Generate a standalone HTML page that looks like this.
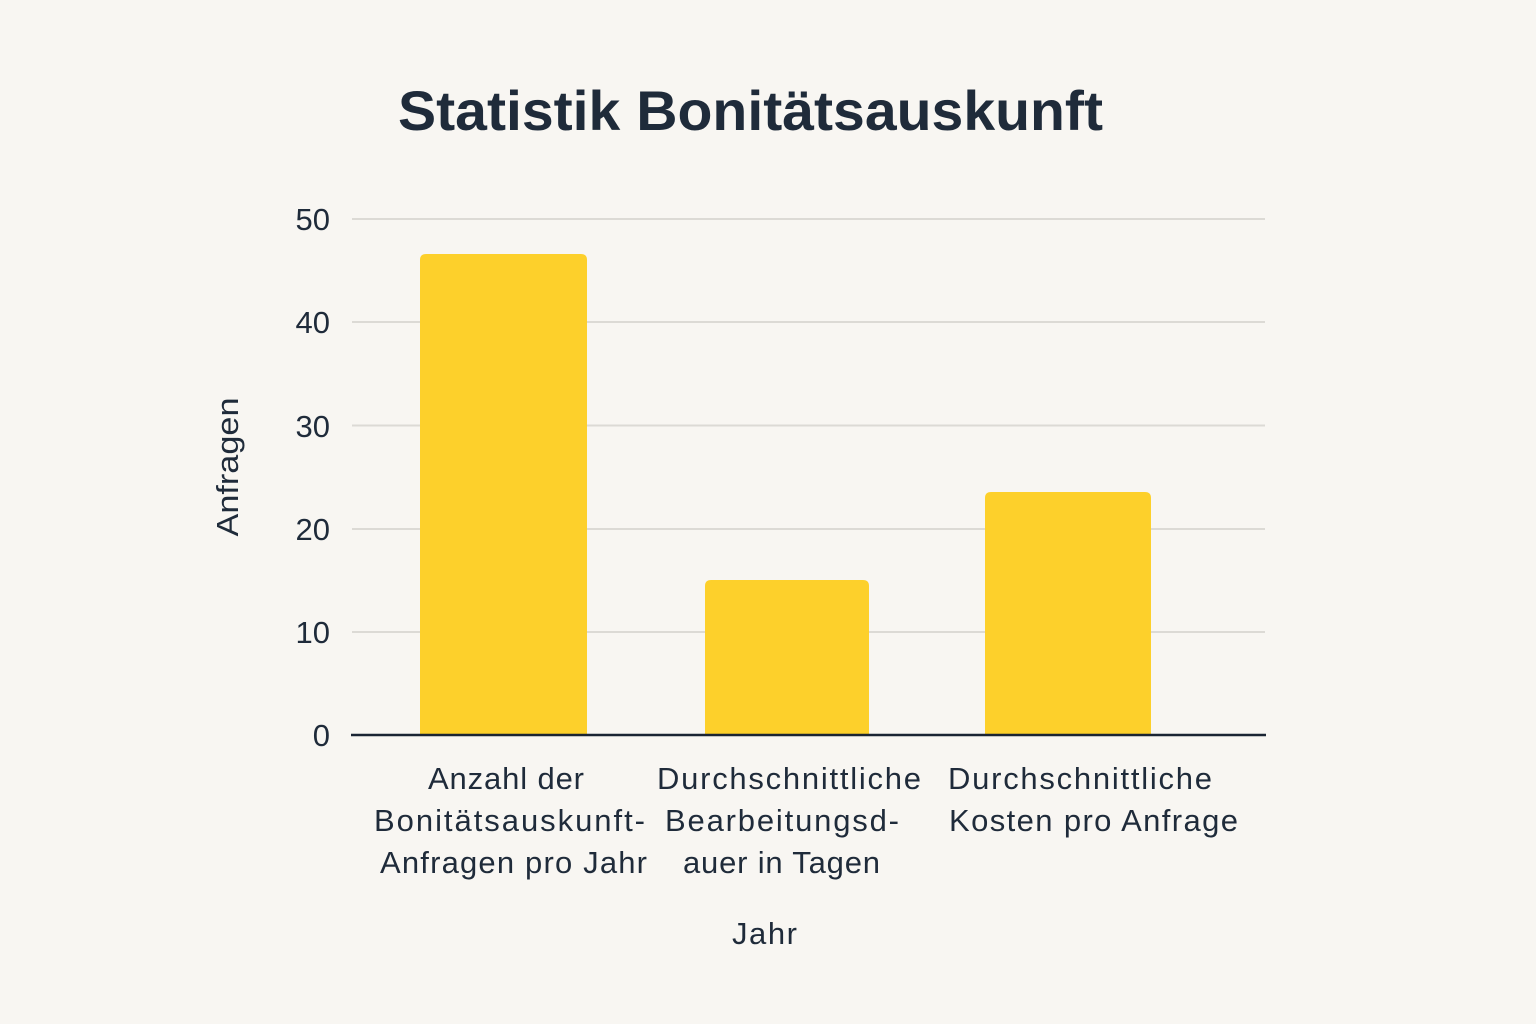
<!DOCTYPE html>
<html><head><meta charset="utf-8"><style>
html,body{margin:0;padding:0;background:#f8f6f2;}
svg{display:block}
text{font-family:"Liberation Sans","DejaVu Sans",sans-serif;fill:#1f2b3a}
</style></head><body>
<svg width="1536" height="1024" viewBox="0 0 1536 1024">
<rect width="1536" height="1024" fill="#f8f6f2"/>
<text x="398" y="130" font-size="56" font-weight="bold" textLength="705" lengthAdjust="spacingAndGlyphs">Statistik Bonitätsauskunft</text>
<g stroke="#dcdad5" stroke-width="2">
<line x1="352" x2="1265" y1="219" y2="219"/>
<line x1="352" x2="1265" y1="322" y2="322"/>
<line x1="352" x2="1265" y1="425.5" y2="425.5"/>
<line x1="352" x2="1265" y1="529" y2="529"/>
<line x1="352" x2="1265" y1="632" y2="632"/>
</g>
<g font-size="31" text-anchor="end">
<text x="330" y="230">50</text>
<text x="330" y="333">40</text>
<text x="330" y="437">30</text>
<text x="330" y="540">20</text>
<text x="330" y="643">10</text>
<text x="330" y="746">0</text>
</g>
<g fill="#fdd02b">
<path d="M420 735 V260 Q420 254 426 254 H581 Q587 254 587 260 V735 Z"/>
<path d="M705 735 V586 Q705 580 711 580 H863 Q869 580 869 586 V735 Z"/>
<path d="M985 735 V498 Q985 492 991 492 H1145 Q1151 492 1151 498 V735 Z"/>
</g>
<line x1="351" x2="1266" y1="735" y2="735" stroke="#1a2433" stroke-width="2.5"/>
<g font-size="31" lengthAdjust="spacingAndGlyphs">
<text x="428" y="789" textLength="156">Anzahl der</text>
<text x="374" y="831" textLength="271">Bonitätsauskunft-</text>
<text x="380" y="873" textLength="267">Anfragen pro Jahr</text>
<text x="657" y="789" textLength="264">Durchschnittliche</text>
<text x="665" y="831" textLength="234">Bearbeitungsd-</text>
<text x="683" y="873" textLength="197">auer in Tagen</text>
<text x="948" y="789" textLength="264">Durchschnittliche</text>
<text x="949" y="831" textLength="289">Kosten pro Anfrage</text>
<text x="732" y="944" textLength="65">Jahr</text>
</g>
<text transform="translate(238,467) rotate(-90)" font-size="31" text-anchor="middle" textLength="139" lengthAdjust="spacingAndGlyphs">Anfragen</text>
</svg>
</body></html>
